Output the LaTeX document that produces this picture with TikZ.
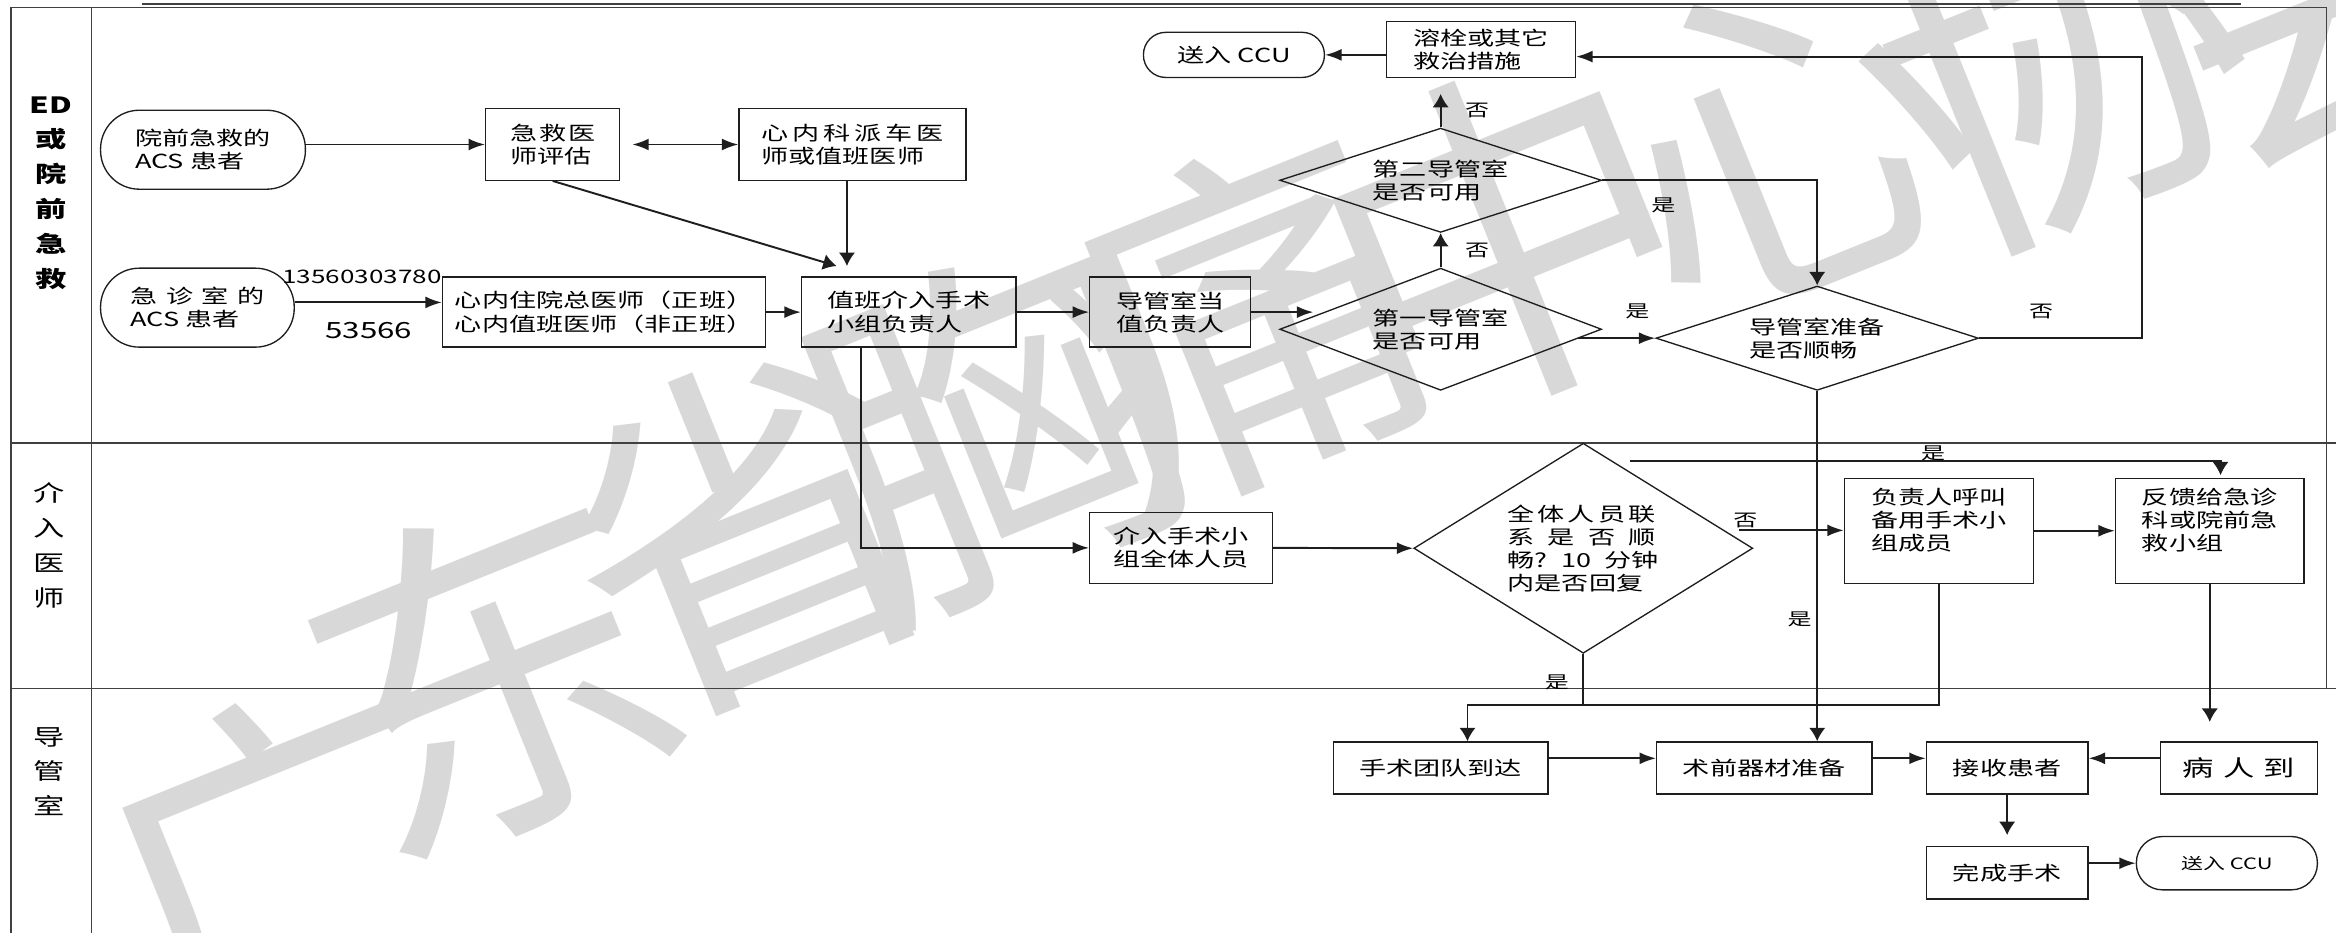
\documentclass[tikz,border=0pt]{standalone}
\usepackage{fontspec}
\setmainfont{Noto Sans CJK SC}[FakeStretch=1.4]
\newfontfamily\wmfont{Noto Sans CJK SC}
\usetikzlibrary{arrows.meta,shapes.geometric,calc}
\definecolor{wmgray}{RGB}{216,216,216}
\definecolor{ink}{RGB}{30,30,30}
\newcommand\gp[1]{\hspace{#1pt}}
\newcommand\fs[2]{\fontsize{#1}{#2}\selectfont}
\begin{document}
\begin{tikzpicture}[x=1pt,y=-1pt,
  box/.style={draw=ink, line width=0.9pt, rectangle, inner sep=0pt, align=left, font=\fs{13}{15.5}},
  term/.style={box, rounded corners=#1}, term/.default=26pt,
  dia/.style={draw=ink, line width=0.9pt, diamond, inner sep=0pt, align=left, font=\fs{13}{15.5}},
  con/.style={line width=1.3pt, draw=ink},
  ah/.style={con, -{Latex[length=11pt,width=8pt]}},
  av/.style={con, -{Latex[length=9pt,width=11pt]}},
  dbl/.style={con, {Latex[length=11pt,width=8pt]}-{Latex[length=11pt,width=8pt]}},
  lab/.style={font=\fs{11.5}{13}, inner sep=0pt},
  wm/.style={text=wmgray, font=\wmfont\fs{240}{240}, rotate=22, inner sep=0pt},
  lane/.style={align=center, inner sep=0pt},
  frame/.style={line width=1pt, draw=ink!85}
]
\useasboundingbox (0,0) rectangle (1568,625.6);
% watermark
\node[wm] (wm1) at (190,580) {广};
\node[wm] (wm2) at (330,450) {东};
\node[wm] (wm3) at (500,355) {省};
\node[wm] (wm4) at (665,285) {胸};
\node[wm] (wm5) at (830,215) {痛};
\node[wm] (wm6) at (1010,160) {中};
\node[wm] (wm7) at (1200,90) {心};
\node[wm] (wm8) at (1385,40) {协};
\node[wm] (wm9) at (1560,-15) {会};
% frame
\draw[frame] (95,2.7) -- (1504,2.7);
\draw[frame] (7.5,626) -- (7.5,4.9) -- (1561.5,4.9) -- (1561.5,462);
\draw[frame] (61.5,4.9) -- (61.5,626);
\draw[frame] (7.5,297.5) -- (1568,297.5);
\draw[frame] (7.5,462) -- (1568,462);
% lane labels
\node[lane, font=\bfseries\fs{15}{23.4}] (laneA) at (34,129.5) {ED\\或\\院\\前\\急\\救};
\node[lane, font=\fs{15}{23.5}] (laneB) at (33,365.8) {介\\入\\医\\师};
\node[lane, font=\fs{15}{23}] (laneC) at (33,517.8) {导\\管\\室};
% nodes lane 1
\node[term, minimum width=137.5, minimum height=53] (n1) at (136.25,100.5) {院前急救的\\ACS 患者};
\node[term, minimum width=130, minimum height=53] (n2) at (132.5,206.5) {急\gp{5.6}诊\gp{5.6}室\gp{5.6}的\\ACS 患者};
\node[box, minimum width=90, minimum height=48] (n3) at (371,97) {急\gp{1.3}救\gp{1.3}医\\师评估};
\node[box, minimum width=152.5, minimum height=48] (n4) at (572.25,97) {心\gp{2.6}内\gp{2.6}科\gp{2.6}派\gp{2.6}车\gp{2.6}医\\师或值班医师};
\node[box, minimum width=217, minimum height=47] (n5) at (405.5,209.5) {心内住院总医师（正班）\\心内值班医师（非正班）};
\node[box, minimum width=144, minimum height=47] (n6) at (610,209.5) {值班介入手术\\小组负责人};
\node[box, minimum width=108, minimum height=47] (n7) at (785.5,209.5) {导管室当\\值负责人};
\node[dia, aspect=2.634, minimum width=216, minimum height=82] (d1) at (967,221) {第一导管室\\是否可用};
\node[dia, aspect=3.086, minimum width=216, minimum height=70] (d2) at (967,121) {第二导管室\\是否可用};
\node[box, minimum width=127, minimum height=37.5] (n8) at (994,33.25) {溶栓或其它\\救治措施};
\node[term=15pt, minimum width=121.5, minimum height=30.3] (n9) at (828.25,36.85) {送入 CCU};
\node[dia, aspect=3.093, minimum width=216.5, minimum height=70] (d3) at (1219.75,227) {导管室准备\\是否顺畅};
% lane 2
\node[box, minimum width=122.5, minimum height=47.5] (n10) at (792.75,367.75) {介入手术小\\组全体人员};
\node[dia, aspect=1.613, minimum width=227.5, minimum height=141] (d4) at (1062.75,368) {全\gp{2}体\gp{2}人\gp{2}员\gp{2}联\\系\gp{8.8}是\gp{8.8}否\gp{8.8}顺\\畅?\gp{9}10\gp{9}分钟\\内是否回复};
\node[box, minimum width=127, minimum height=70.5] (n11) at (1301.5,356.25) {负责人呼叫\\备用手术小\\组成员\\\mbox{}};
\node[box, minimum width=126.5, minimum height=70.5] (n12) at (1483.25,356.25) {反馈给急诊\\科或院前急\\救小组\\\mbox{}};
% lane 3
\node[box, minimum width=144, minimum height=35] (n13) at (967,515.5) {手术团队到达};
\node[box, minimum width=144.5, minimum height=35] (n14) at (1184.25,515.5) {术前器材准备};
\node[box, minimum width=108.5, minimum height=35] (n16) at (1347.25,515.5) {接收患者};
\node[box, minimum width=105.5, minimum height=35, font=\fs{15}{17}] (n15) at (1502.75,515.5) {病\gp{6}人\gp{6}到};
\node[box, minimum width=108.5, minimum height=35.5] (n17) at (1347.25,585.75) {完成手术};
\node[term=17.5pt, minimum width=121.5, minimum height=35.8, font=\fs{10.5}{12}] (n18) at (1494.75,579.4) {送入 CCU};
% connectors lane 1
\draw[ah] (n1.east |- n3) -- (n3.west);
\draw[dbl, shorten <=8pt] (n3.east) -- (n4.west);
\coordinate (dE) at ($(n6.north west)+(24,-7)$);
\draw[av] (n3.south) -- (dE);
\coordinate (n4b) at ($(n4.south)+(-3.75,0)$);
\draw[av, shorten >=7pt] (n4b) -- (n4b |- n6.north);
\draw[ah] ($(n2.east)+(0,-3.5)$) -- ($(n5.west)+(0,-6.5)$);
\node[lab, font=\fs{12.5}{14}] (num1) at (243,186) {13560303780};
\node[lab, font=\fs{15}{17}] (num2) at (247.5,222) {53566};
\draw[ah] (n5.east) -- (n6.west);
\draw[ah] (n6.east) -- (n7.west);
\coordinate (d1in) at ($(d1.west)+(23,0)$);
\draw[ah] (n7.east) -- (n7.east -| d1in);
\draw[av] (d1.north) -- (d2.south);
\node[lab] (no1) at (991.5,168) {否};
\draw[av] (d2.north) -- ($(d2.north |- n8.south)+(0,10.6)$);
\node[lab] (no2) at (991.5,74) {否};
\draw[ah] (n8.west |- n9.east) -- (n9.east);
\draw[av] (d2.east) -| (d3.north);
\node[lab] (yes1) at (1116.5,137.6) {是};
\coordinate (d1out) at ($(d1.east)+(-16,6)$);
\draw[ah] (d1out) -- (d1out -| d3.west);
\node[lab] (yes2) at (1099,209) {是};
\coordinate (loopTR) at (1437.5,38);
\draw[ah] (d3.east) -| (loopTR) -- (loopTR -| n8.east);
\node[lab] (no3) at (1370,209) {否};
\draw[av] (d3.south) -- (d3.south |- n14.north);
\node[lab] (yes3) at (1208,415.6) {是};
% lane 2 connectors
\coordinate (n6b) at ($(n6.south west)+(40.5,0)$);
\draw[ah] (n6b) |- (n10.west);
\draw[ah] (n10.east) -- (d4.west);
\coordinate (d4no) at ($(d4.east)+(-10,-12)$);
\draw[ah] (d4no) -- (d4no -| n11.west);
\node[lab] (no4) at (1171.5,349.6) {否};
\draw[ah] (n11.east) -- (n12.west);
\coordinate (d4yes) at ($(d4.north)+(31.25,12.5)$);
\coordinate (n12in) at ($(n12.north)+(7.25,-1.6)$);
\draw[av] (d4yes) -| (n12in);
\node[lab] (yes4) at (1297.5,304) {是};
\coordinate (mergeY) at (0,473.3);
\coordinate (n13in) at ($(n13.north)+(18,0)$);
\draw[con] (d4.south) -- (d4.south |- mergeY);
\draw[av] (n11.south) -- (n11.south |- mergeY) -| (n13in);
\node[lab] (yes5) at (1045,458) {是};
\draw[av] (n12.south) -- ($(n12.south |- n15.north)+(0,-13)$);
% lane 3 connectors
\draw[ah] ($(n13.east)+(0,-6.5)$) -- ($(n14.west)+(0,-6.5)$);
\draw[ah] ($(n14.east)+(0,-6.5)$) -- ($(n16.west)+(0,-6.5)$);
\draw[ah] ($(n15.west)+(0,-6.5)$) -- ($(n16.east)+(0,-6.5)$);
\draw[av, shorten >=7pt] (n16.south) -- (n17.north);
\draw[ah] (n17.east |- n18.west) -- (n18.west);
\end{tikzpicture}
\end{document}
